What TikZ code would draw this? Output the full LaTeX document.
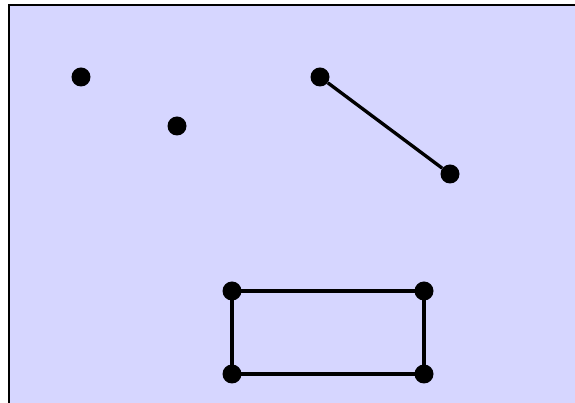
\documentclass[tikz,border=0pt]{standalone}
\usepackage{tikz}
\usetikzlibrary{positioning}

\begin{document}
\begin{tikzpicture}[x=0.03cm, y=-0.03cm,
    dot/.style={circle, fill=black, inner sep=0pt, minimum size=0.57cm},
    edge/.style={line width=1.0mm},
]

% Bounding box of the picture
\useasboundingbox (0,0) rectangle (575,403);

% Background panel (clipped at the right and bottom)
\fill[blue!16] (9,5) rectangle (610,430);
\draw[line width=0.7mm] (9,430) -- (9,5) -- (610,5);

% Single points
\node[dot] (p1) at (81,77) {};
\node[dot] (p2) at (177,126) {};

% Segment
\node[dot] (s1) at (320,77) {};
\node[dot] (s2) at (450,174) {};
\draw[edge] (s1) -- (s2);

% Rectangle
\node[dot] (r1) at (232,291) {};
\node[dot] (r2) at (424,291) {};
\node[dot] (r3) at (424,374) {};
\node[dot] (r4) at (232,374) {};
\draw[edge] (r1.center) -- (r2.center) -- (r3.center) -- (r4.center) -- cycle;

\end{tikzpicture}
\end{document}
